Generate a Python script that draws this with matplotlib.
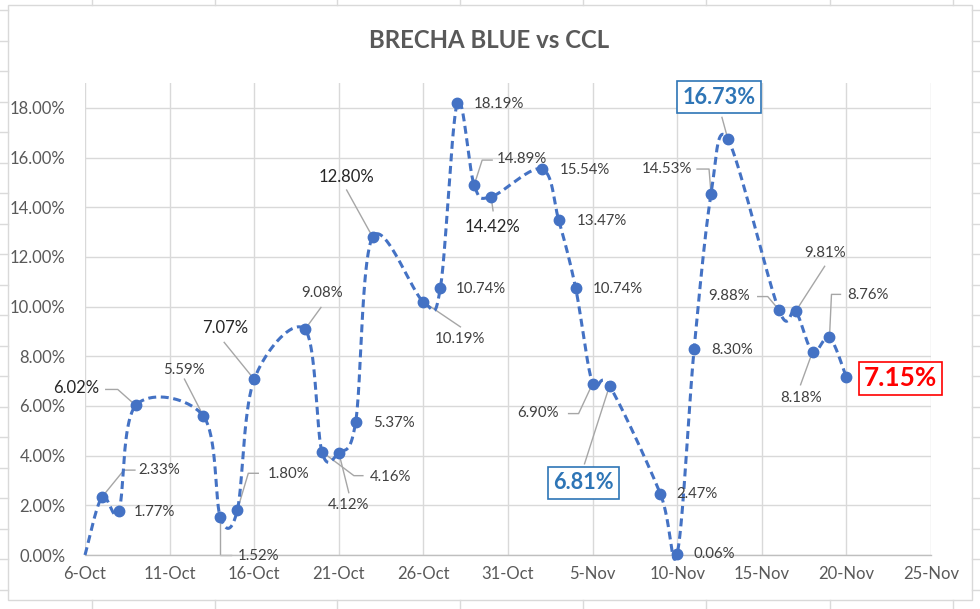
import numpy as np
import matplotlib
matplotlib.use("Agg")
import matplotlib.pyplot as plt
import matplotlib.dates as mdates
from matplotlib.lines import Line2D
from matplotlib.patches import Rectangle
from matplotlib.ticker import FixedLocator, FuncFormatter
import datetime as dt

plt.rcParams["font.family"] = ["Lato", "DejaVu Sans"]

# ---------------- data ----------------
title = "BRECHA BLUE vs CCL"
dates = ["2020-10-06", "2020-10-07", "2020-10-08", "2020-10-09", "2020-10-13",
         "2020-10-14", "2020-10-15", "2020-10-16", "2020-10-19", "2020-10-20",
         "2020-10-21", "2020-10-22", "2020-10-23", "2020-10-26", "2020-10-27",
         "2020-10-28", "2020-10-29", "2020-10-30", "2020-11-02", "2020-11-03",
         "2020-11-04", "2020-11-05", "2020-11-06", "2020-11-09", "2020-11-10",
         "2020-11-11", "2020-11-12", "2020-11-13", "2020-11-16", "2020-11-17",
         "2020-11-18", "2020-11-19", "2020-11-20"]
values = [0.00, 2.33, 1.77, 6.02, 5.59, 1.52, 1.80, 7.07, 9.08, 4.16,
          4.12, 5.37, 12.80, 10.19, 10.74, 18.19, 14.89, 14.42, 15.54, 13.47,
          10.74, 6.90, 6.81, 2.47, 0.06, 8.30, 14.53, 16.73, 9.88, 9.81,
          8.18, 8.76, 7.15]
x_range = ["2020-10-06", "2020-11-25"]
y_ticks = [0, 2, 4, 6, 8, 10, 12, 14, 16, 18]
y_max = 19.0

# label styles: (style, dx, dy, leader polyline offsets) in pixels, y up
label_style = {
    1: ("s", 57, 27, [(0, 0), (22, 27), (33, 27)]),
    2: ("s", 36, -1, None),
    3: ("b", -60, 17, [(0, 0), (-18, 16), (-30, 16)]),
    4: ("s", -19, 46, [(0, 0), (-19, 37)]),
    5: ("s", 38, -39, [(0, 0), (0, -38), (11, -38)]),
    6: ("s", 51, 36, [(0, 0), (11, 37), (21, 37)]),
    7: ("b", -29, 51, [(0, 0), (-30, 37)]),
    8: ("s", 17, 36, [(0, 0), (16, 22)]),
    9: ("s", 69, -25, [(0, 0), (32, -24), (41, -24)]),
    10: ("s", 10, -52, [(0, 0), (10, -40)]),
    11: ("s", 38, -1, None),
    12: ("b", -26, 60, [(0, 0), (-26, 47)]),
    13: ("s", 37, -37, [(0, 0), (37, -25)]),
    14: ("s", 41, -1, None),
    15: ("s", 42, -1, None),
    16: ("s", 48, 26, [(0, 0), (8, 25), (18, 25)]),
    17: ("b", 1, -30, [(0, 0), (2, -14)]),
    18: ("s", 43, -1, None),
    19: ("s", 43, -1, None),
    20: ("s", 42, -1, None),
    21: ("s", -55, -29, [(0, 0), (-14, -30), (-24, -30)]),
    22: ("blue", -26, -97, [(0, 0), (-25, -78)]),
    23: ("s", 37, 0, None),
    24: ("s", 37, 0, None),
    25: ("s", 38, -1, None),
    26: ("s", -44, 25, [(0, 0), (-2, 25), (-14, 25)]),
    27: ("blue", -9, 42, [(0, 0), (-6, 22)]),
    28: ("s", -50, 14, [(0, 0), (-11, 13), (-21, 13)]),
    29: ("s", 29, 58, [(0, 0), (29, 45)]),
    30: ("s", -11, -46, [(0, 0), (-12, -33)]),
    31: ("s", 38, 42, [(0, 0), (2, 43), (11, 43)]),
    32: ("red", 54, -1, None),
}

# ---------------- figure ----------------
W, H = 980, 609
fig = plt.figure(figsize=(W / 100, H / 100), dpi=100)
fig.patch.set_facecolor("white")

# spreadsheet cell lines outside the chart
cell_col = "#dadada"
for cx in [92, 215, 337, 460, 583, 706, 830, 953]:
    fig.add_artist(Line2D([cx / W, cx / W], [1, 1 - 5 / H], transform=fig.transFigure, color=cell_col, lw=1))
    fig.add_artist(Line2D([cx / W, cx / W], [1 - 600 / H, 0], transform=fig.transFigure, color=cell_col, lw=1))
for ry in np.arange(10, H, 30.5):
    fig.add_artist(Line2D([0, 8 / W], [1 - ry / H, 1 - ry / H], transform=fig.transFigure, color=cell_col, lw=1))
    fig.add_artist(Line2D([972 / W, 1], [1 - ry / H, 1 - ry / H], transform=fig.transFigure, color=cell_col, lw=1))
fig.add_artist(Rectangle((8 / W, 1 - 600 / H), (972 - 8) / W, (600 - 5) / H, transform=fig.transFigure,
                         fill=False, ec="#d9d9d9", lw=1))

ax = fig.add_axes([85 / W, 1 - 555 / H, (931 - 85) / W, (555 - 83) / H])
ax.set_facecolor("none")
ax.set_zorder(2)

xs = mdates.date2num([dt.date.fromisoformat(d) for d in dates])
ys = np.array(values)
x0, x1 = mdates.date2num([dt.date.fromisoformat(d) for d in x_range])
ax.set_xlim(x0, x1)
ax.set_ylim(0, y_max)


def excel_smooth(px, py, n=40):
    P = np.column_stack([px, py])
    N = len(P)
    out = [P[0]]
    t = np.linspace(0, 1, n)[1:, None]
    for i in range(N - 1):
        p0 = P[i - 1] if i > 0 else P[i]
        p1, p2 = P[i], P[i + 1]
        p3 = P[i + 2] if i + 2 < N else P[i + 1]
        c1 = p1 + (p2 - p0) / 6.0
        c2 = p2 - (p3 - p1) / 6.0
        seg = (1 - t) ** 3 * p1 + 3 * (1 - t) ** 2 * t * c1 + 3 * (1 - t) * t ** 2 * c2 + t ** 3 * p2
        out.extend(seg)
    return np.array(out)


curve = excel_smooth(xs, ys)
blue = "#4472C4"
ax.plot(curve[:, 0], curve[:, 1], color=blue, lw=2.2, dashes=(2.6, 1.5), zorder=3, clip_on=False)
ax.plot(xs[1:], ys[1:], "o", color=blue, ms=7.5, zorder=4, clip_on=False)

# axes styling
ax.xaxis.set_major_locator(FixedLocator(np.arange(x0, x1 + 0.5, 5)))
ax.xaxis.set_major_formatter(FuncFormatter(lambda v, p: f"{mdates.num2date(v).day}-{mdates.num2date(v).strftime('%b')}"))
ax.yaxis.set_major_locator(FixedLocator(y_ticks))
ax.yaxis.set_major_formatter(FuncFormatter(lambda v, p: f"{v:.2f}%"))
ax.grid(True, color="#d9d9d9", lw=1)
ax.set_axisbelow(True)
for s in ["top", "right", "left"]:
    ax.spines[s].set_visible(False)
ax.spines["bottom"].set_color("#bfbfbf")
ax.spines["bottom"].set_linewidth(1)
ax.tick_params(length=0, labelsize=12, labelcolor="#595959")
ax.tick_params(axis="y", pad=14)
ax.tick_params(axis="x", pad=8)

fig.text(489 / W, 1 - 40 / H, title, ha="center", va="center", fontsize=17.3,
         fontweight="bold", color="#595959")

# labels and leaders
styles = {
    "s": dict(fontsize=10.8, color="#404040"),
    "b": dict(fontsize=12, color="#262626"),
    "blue": dict(fontsize=15.6, color="#2E75B6", fontweight="bold",
                 bbox=dict(boxstyle="square,pad=0.25", fc="white", ec="#2E75B6", lw=1.2)),
    "red": dict(fontsize=18.8, color="#FF0000", fontweight="bold",
                bbox=dict(boxstyle="square,pad=0.18", fc="white", ec="#FF0000", lw=1.2)),
}
inv = fig.transFigure.inverted()
for i, (st, dx, dy, leader) in label_style.items():
    ax.annotate(f"{values[i]:.2f}%", xy=(xs[i], ys[i]), xytext=(dx, dy),
                textcoords="offset pixels", ha="center", va="center",
                zorder=5, annotation_clip=False, **styles[st])
    if leader:
        mx, my = ax.transData.transform((xs[i], ys[i]))
        pts = np.array([(mx + a, my + b) for a, b in leader])
        fpts = inv.transform(pts)
        ax.add_artist(Line2D(fpts[:, 0], fpts[:, 1], transform=fig.transFigure,
                             color="#a6a6a6", lw=1, zorder=2.5, clip_on=False))

fig.savefig("out.png", dpi=100, facecolor="white")
